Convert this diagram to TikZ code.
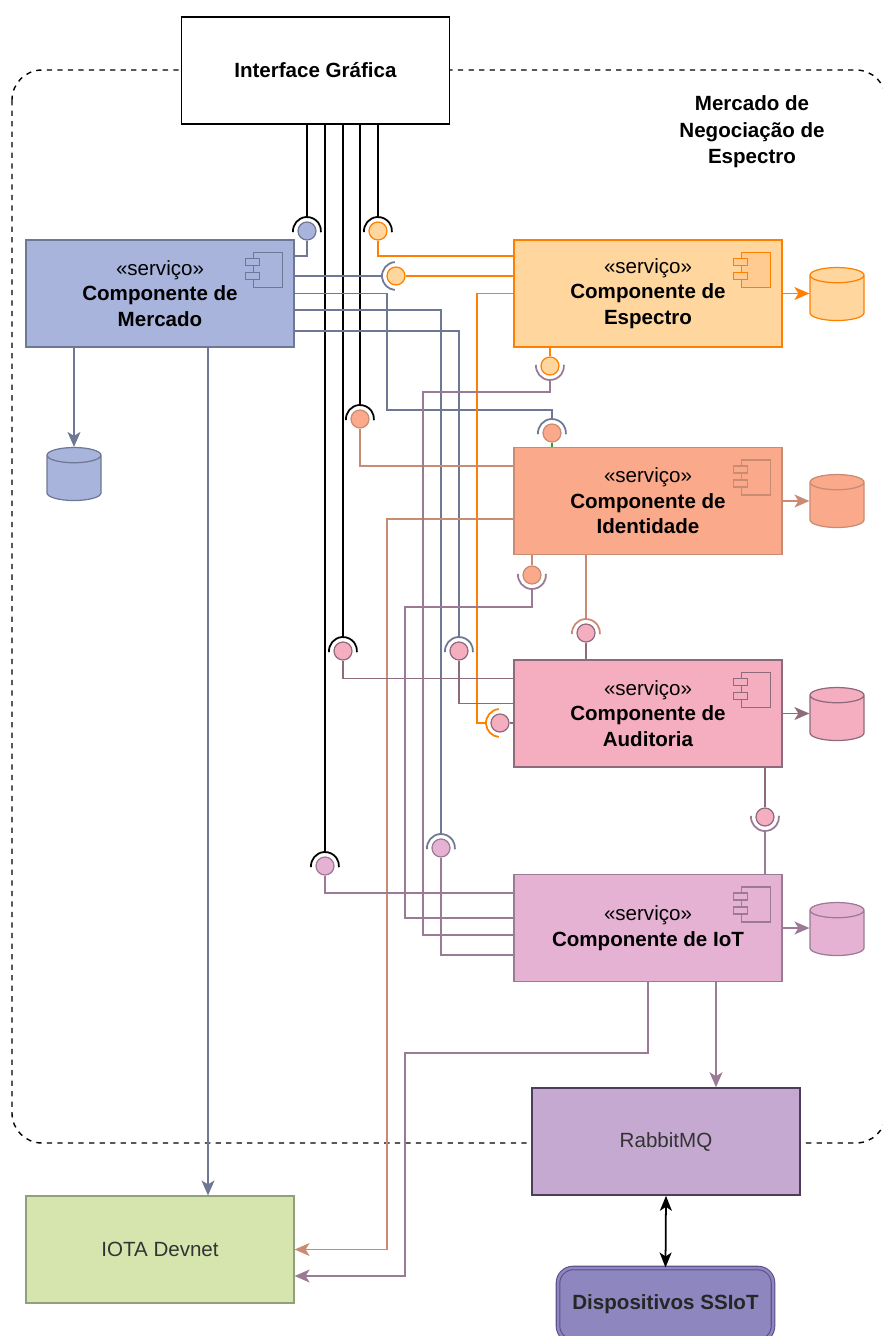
\documentclass[tikz,border=0pt]{standalone}
\usepackage{fontspec}
\setmainfont{Liberation Sans}
\usetikzlibrary{arrows.meta,shapes.geometric}

\definecolor{mercfill}{HTML}{A9B4DC}
\definecolor{mercline}{HTML}{6E7794}
\definecolor{espfill}{HTML}{FFD69E}
\definecolor{espicon}{HTML}{FFCB91}
\definecolor{espline}{HTML}{FF8000}
\definecolor{identfill}{HTML}{FAA98B}
\definecolor{identline}{HTML}{C98B72}
\definecolor{audfill}{HTML}{F5AEC0}
\definecolor{audline}{HTML}{8E6A7D}
\definecolor{iotfill}{HTML}{E6B2D3}
\definecolor{iotline}{HTML}{9A7A94}
\definecolor{iotafill}{HTML}{D6E5AD}
\definecolor{iotaline}{HTML}{8FA07A}
\definecolor{rabbitfill}{HTML}{C5A9D1}
\definecolor{rabbitline}{HTML}{4D3D5A}
\definecolor{dispfill}{HTML}{8E86BF}
\definecolor{displine}{HTML}{5B4E8A}
\definecolor{txtgrey}{HTML}{333333}
\definecolor{linkgreen}{HTML}{33A02C}

\tikzset{
  comp/.style={rectangle, draw, line width=0.7pt, minimum width=5.36cm, minimum height=2.14cm, align=center, font=\fontsize{11.7}{14.5}\selectfont},
  db/.style={cylinder, shape border rotate=90, aspect=1.3, draw, line width=0.7pt, minimum width=1.08cm, minimum height=1.06cm},
  ball/.style={circle, draw, line width=0.7pt, minimum size=0.36cm, inner sep=0pt},
  wire/.style={line width=0.7pt},
  uiwire/.style={line width=1.1pt, black},
  endarrow/.style={-{Stealth[length=0.3cm,width=0.26cm,inset=0.08cm]}},
}

\begin{document}
\begin{tikzpicture}

\useasboundingbox (0,0) rectangle (17.66cm,-26.72cm);

% fronteira do mercado
\draw [dashed, line width=0.8pt, rounded corners=0.6cm] (0.24cm,-1.4cm) rectangle (17.72cm,-22.86cm);
\node (title) at(15.04cm,-2.64cm) [align=center, font=\fontsize{11.7}{15}\selectfont\bfseries]{Mercado de\\Negociação de\\Espectro};

\node (ui) at(6.31cm,-1.41cm) [comp, draw=black, fill=white, line width=0.9pt]{\textbf{Interface Gráfica}};

% componentes
\node (merc) at(3.2cm,-5.87cm) [comp, draw=mercline, fill=mercfill]{«serviço»\\\textbf{Componente de}\\\textbf{Mercado}};
\node (esp) at(12.96cm,-5.87cm) [comp, draw=espline, fill=espfill]{«serviço»\\\textbf{Componente de}\\\textbf{Espectro}};
\node (ident) at(12.96cm,-10.02cm) [comp, draw=identline, fill=identfill]{«serviço»\\\textbf{Componente de}\\\textbf{Identidade}};
\node (aud) at(12.96cm,-14.27cm) [comp, draw=audline, fill=audfill]{«serviço»\\\textbf{Componente de}\\\textbf{Auditoria}};
\node (iot) at(12.96cm,-18.56cm) [comp, draw=iotline, fill=iotfill]{«serviço»\\\textbf{Componente de IoT}};

\node (iota) at(3.2cm,-24.99cm) [comp, draw=iotaline, fill=iotafill, text=txtgrey]{IOTA Devnet};
\node (rabbit) at(13.32cm,-22.83cm) [comp, draw=rabbitline, fill=rabbitfill, text=txtgrey, line width=0.9pt]{RabbitMQ};
\node (disp) at(13.31cm,-26.09cm) [draw=displine, double=dispfill, double distance=0.05cm, line width=0.6pt, fill=dispfill, rounded corners=0.3cm, minimum width=4.3cm, minimum height=1.46cm, font=\fontsize{11.7}{14.5}\selectfont\bfseries, text=black!85]{Dispositivos SSIoT};

% icones
\foreach \c/\l/\f in {merc/mercline/mercfill, esp/espline/espicon, ident/identline/identfill, aud/audline/audfill, iot/iotline/iotfill}{
  \draw [\l, fill=\f, line width=0.7pt] ([shift={(-0.82cm,-0.26cm)}]\c.north east) rectangle ([shift={(-0.24cm,-0.96cm)}]\c.north east);
  \draw [\l, fill=\f, line width=0.7pt] ([shift={(-0.98cm,-0.38cm)}]\c.north east) rectangle ([shift={(-0.7cm,-0.52cm)}]\c.north east);
  \draw [\l, fill=\f, line width=0.7pt] ([shift={(-0.98cm,-0.66cm)}]\c.north east) rectangle ([shift={(-0.7cm,-0.8cm)}]\c.north east);
}

% bancos de dados
\node (mercdb) at(1.48cm,-9.61cm) [db, draw=mercline, fill=mercfill]{};
\node (espdb) at(16.74cm,-6.01cm) [db, draw=espline, fill=espfill]{};
\node (identdb) at(16.74cm,-10.15cm) [db, draw=identline, fill=identfill]{};
\node (auddb) at(16.74cm,-14.41cm) [db, draw=audline, fill=audfill]{};
\node (iotdb) at(16.74cm,-18.71cm) [db, draw=iotline, fill=iotfill]{};

% interfaces fornecidas
\node (bMui) at(6.14cm,-4.62cm) [ball, draw=mercline, fill=mercfill]{};
\node (bEui) at(7.56cm,-4.62cm) [ball, draw=espline, fill=espfill]{};
\node (bEmerc) at(7.92cm,-5.52cm) [ball, draw=espline, fill=espfill]{};
\node (bEiot) at(11.0cm,-7.32cm) [ball, draw=espline, fill=espfill]{};
\node (bIui) at(7.2cm,-8.38cm) [ball, draw=identline, fill=identfill]{};
\node (bImerc) at(11.04cm,-8.66cm) [ball, draw=identline, fill=identfill]{};
\node (bIiot) at(10.64cm,-11.5cm) [ball, draw=identline, fill=identfill]{};
\node (bAid) at(11.72cm,-12.66cm) [ball, draw=audline, fill=audfill]{};
\node (bAui) at(6.86cm,-13.02cm) [ball, draw=audline, fill=audfill]{};
\node (bAmerc) at(9.18cm,-13.02cm) [ball, draw=audline, fill=audfill]{};
\node (bAesp) at(10.0cm,-14.46cm) [ball, draw=audline, fill=audfill]{};
\node (bAiot) at(15.3cm,-16.34cm) [ball, draw=audline, fill=audfill]{};
\node (bTmerc) at(8.82cm,-16.96cm) [ball, draw=iotline, fill=iotfill]{};
\node (bTui) at(6.5cm,-17.32cm) [ball, draw=iotline, fill=iotfill]{};

% interfaces requeridas
\foreach \n/\s/\e/\d/\l in {Mui/185/-5/90/black, Eui/185/-5/90/black, Iui/185/-5/90/black, Aui/185/-5/90/black, Tui/185/-5/90/black, Emerc/95/265/180/mercline, Imerc/185/-5/90/mercline, Amerc/185/-5/90/mercline, Tmerc/185/-5/90/mercline, Eiot/175/365/270/iotline, Iiot/175/365/270/iotline, Aiot/175/365/270/iotline, Aid/185/-5/90/identline, Aesp/95/265/180/espline}{
  \draw [\l, line width=1pt] ([shift={(\s:0.28cm)}]b\n.center) arc[start angle=\s, end angle=\e, radius=0.28cm];
  \coordinate (s\n) at ([shift={(\d:0.28cm)}]b\n.center);
}

% Interface Grafica
\foreach \s in {sMui,sEui,sIui,sAui,sTui} \draw [uiwire] (ui.south -| \s) -- (\s);

% Mercado
\draw [wire, mercline] (bMui.south) |- ([yshift=0.75cm]merc.east);
\draw [wire, mercline] (sEmerc -| merc.east) -- (sEmerc);
\draw [wire, mercline] (merc.east) -| (7.74cm,-8.2cm) -| (sImerc);
\draw [wire, mercline] ([yshift=-0.33cm]merc.east) -| (sTmerc);
\draw [wire, mercline] ([yshift=-0.75cm]merc.east) -| (sAmerc);
\draw [wire, mercline, endarrow] (mercdb.north |- merc.south) -- (mercdb.north);
\draw [wire, mercline, endarrow] ([xshift=0.96cm]merc.south) -- ([xshift=0.96cm]iota.north);

% Espectro
\draw [wire, espline] (bEui.south) |- ([yshift=0.75cm]esp.west);
\draw [wire, espline] (bEmerc.east) -- (bEmerc -| esp.west);
\draw [wire, espline] (bEiot.north) -- (bEiot |- esp.south);
\draw [wire, espline] (esp.west) -| (9.54cm,-14.46cm) -- (sAesp);
\draw [wire, espline, endarrow] (esp.east) -- (esp.east -| espdb.west);

% Identidade
\draw [wire, identline] (bIui.south) |- ([yshift=0.7cm]ident.west);
\draw [wire, linkgreen] (bImerc.south) -- (bImerc |- ident.north);
\draw [wire, identline] (bIiot.north) -- (bIiot |- ident.south);
\draw [wire, identline] (sAid) -- (sAid |- ident.south);
\draw [wire, identline, endarrow] ([yshift=-0.36cm]ident.west) -| (7.74cm,-20cm) |- (iota.east);
\draw [wire, identline, endarrow] (ident.east) -- (ident.east -| identdb.west);

% Auditoria
\draw [wire, audline] (bAid.south) -- (bAid |- aud.north);
\draw [wire, audline] (bAui.south) |- ([yshift=0.7cm]aud.west);
\draw [wire, audline] (bAmerc.south) |- ([yshift=0.2cm]aud.west);
\draw [wire, audline] (bAesp.east) -- (bAesp -| aud.west);
\draw [wire, audline] (bAiot.north) -- (bAiot |- aud.south);
\draw [wire, audline, endarrow] (aud.east) -- (aud.east -| auddb.west);

% IoT
\draw [wire, iotline] (bTui.south) |- ([yshift=0.7cm]iot.west);
\draw [wire, iotline] (bTmerc.south) |- ([yshift=-0.54cm]iot.west);
\draw [wire, iotline] (sEiot) |- (8.46cm,-7.84cm) |- ([yshift=-0.14cm]iot.west);
\draw [wire, iotline] (sIiot) |- (8.1cm,-12.14cm) |- ([yshift=0.2cm]iot.west);
\draw [wire, iotline] (sAiot) -- (sAiot |- iot.north);
\draw [wire, iotline, endarrow] (iot.east) -- (iot.east -| iotdb.west);
\draw [wire, iotline, endarrow] (iot.south) |- (8.1cm,-21.06cm) |- ([yshift=-0.53cm]iota.east);
\draw [wire, iotline, endarrow] ([xshift=1.36cm]iot.south) -- ([xshift=1.36cm]iot.south |- rabbit.north);

\draw [line width=1pt, {Stealth[length=0.3cm,width=0.24cm,inset=0.08cm]}-{Stealth[length=0.3cm,width=0.24cm,inset=0.08cm]}] (rabbit.south) -- (disp.north);

\end{tikzpicture}
\end{document}
